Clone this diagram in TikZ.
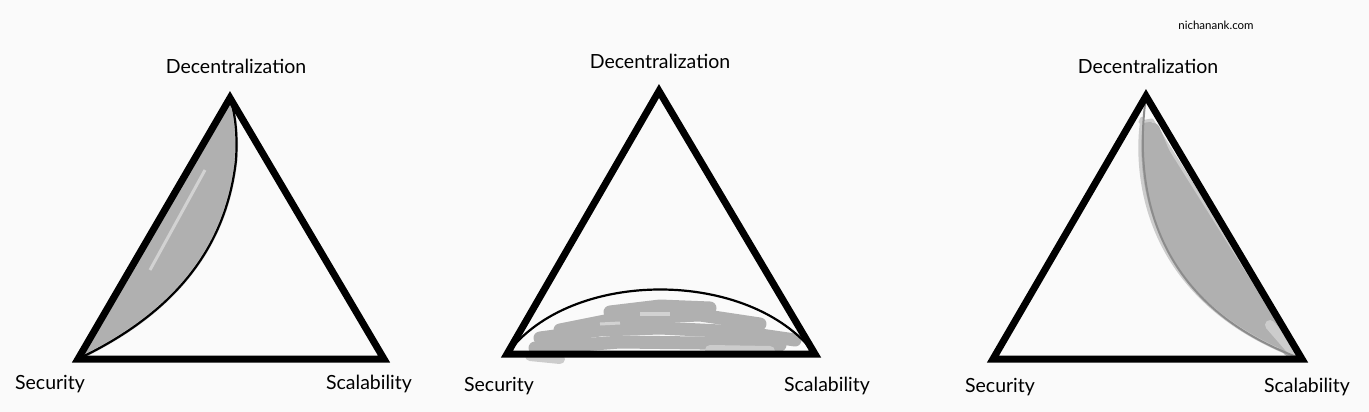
\documentclass[tikz,border=0pt]{standalone}
\usepackage{fontspec}
\setmainfont{Lato}
\begin{document}
\begin{tikzpicture}[x=1pt,y=-1pt,
  tri/.style={line width=7pt,line join=miter},
  lbl/.style={font=\fontsize{19.5}{22}\selectfont,inner sep=0pt},
  curve/.style={line width=2.2pt},
  blob/.style={fill=gray!62,draw=gray!40,line width=3pt,line join=round},
  smear/.style={draw=gray!62,line width=13pt,line cap=round,line join=round}]
\fill[white!98!black] (0,0) rectangle (1369,412);
\useasboundingbox (0,0) rectangle (1369,412);
\node[font=\fontsize{11.5}{12}\selectfont] (site) at (1216,25) {nichanank.com};
% Triangle 1
\coordinate (a1) at (230,98);
\coordinate (l1) at (78,359);
\coordinate (r1) at (384,359);
\fill[blob] (a1) -- (l1) .. controls (160,320) and (225,260) .. (236,160) .. controls (238,130) and (234,110) .. cycle;
\draw[draw=gray!35,line width=3pt] (150,270) -- (205,170);
\draw[curve] (a1) .. controls (234,110) and (238,130) .. (236,160) .. controls (225,260) and (160,320) .. (l1);
\draw[tri] (a1) -- (l1) -- (r1) -- cycle;
\node[lbl] (d1) at (236,66) {Decentralization};
\node[lbl] (s1) at (50,384) {Security};
\node[lbl] (c1) at (369,384) {Scalability};
% Triangle 2
\coordinate (a2) at (659,91);
\coordinate (l2) at (507,354);
\coordinate (r2) at (815,354);
\draw[smear] (535,348) -- (580,345) -- (620,342) -- (700,343) -- (780,345);
\draw[smear] (540,338) -- (600,330) -- (660,328) -- (740,332) -- (795,340);
\draw[smear] (560,330) -- (620,318) -- (700,315) -- (760,324);
\draw[smear] (610,312) -- (660,306) -- (710,308);
\draw[draw=gray!40,line width=10pt,line cap=round] (530,356) -- (560,359);
\draw[draw=gray!40,line width=10pt,line cap=round] (710,350) -- (770,351);
\draw[draw=gray!35,line width=4pt] (640,314) -- (670,314);
\draw[draw=gray!35,line width=3pt] (600,324) -- (620,323);
\draw[curve] (l2) .. controls (570,268) and (750,268) .. (r2);
\draw[tri] (a2) -- (l2) -- (r2) -- cycle;
\node[lbl] (d2) at (660,61) {Decentralization};
\node[lbl] (s2) at (499,386) {Security};
\node[lbl] (c2) at (827,386) {Scalability};
% Triangle 3
\coordinate (a3) at (1146,96);
\coordinate (l3) at (993,359);
\coordinate (r3) at (1302,359);
\fill[blob] (1140,122) -- (1152,120) -- (r3) .. controls (1140,300) and (1134,170) .. (1142,118) -- cycle;
\draw[draw=gray!62,line width=14pt,line cap=round,line join=round] (1153,130) -- (1195,230) -- (1248,300) -- (1290,350);
\draw[draw=gray!40,line width=10pt,line cap=round] (1270,325) -- (1296,355);
\draw[draw=gray!50!black!60,line width=2pt] (a3) .. controls (1136,170) and (1140,300) .. (r3);
\draw[tri] (a3) -- (l3) -- (r3) -- cycle;
\node[lbl] (d3) at (1148,66) {Decentralization};
\node[lbl] (s3) at (1000,387) {Security};
\node[lbl] (c3) at (1307,387) {Scalability};
\end{tikzpicture}
\end{document}
